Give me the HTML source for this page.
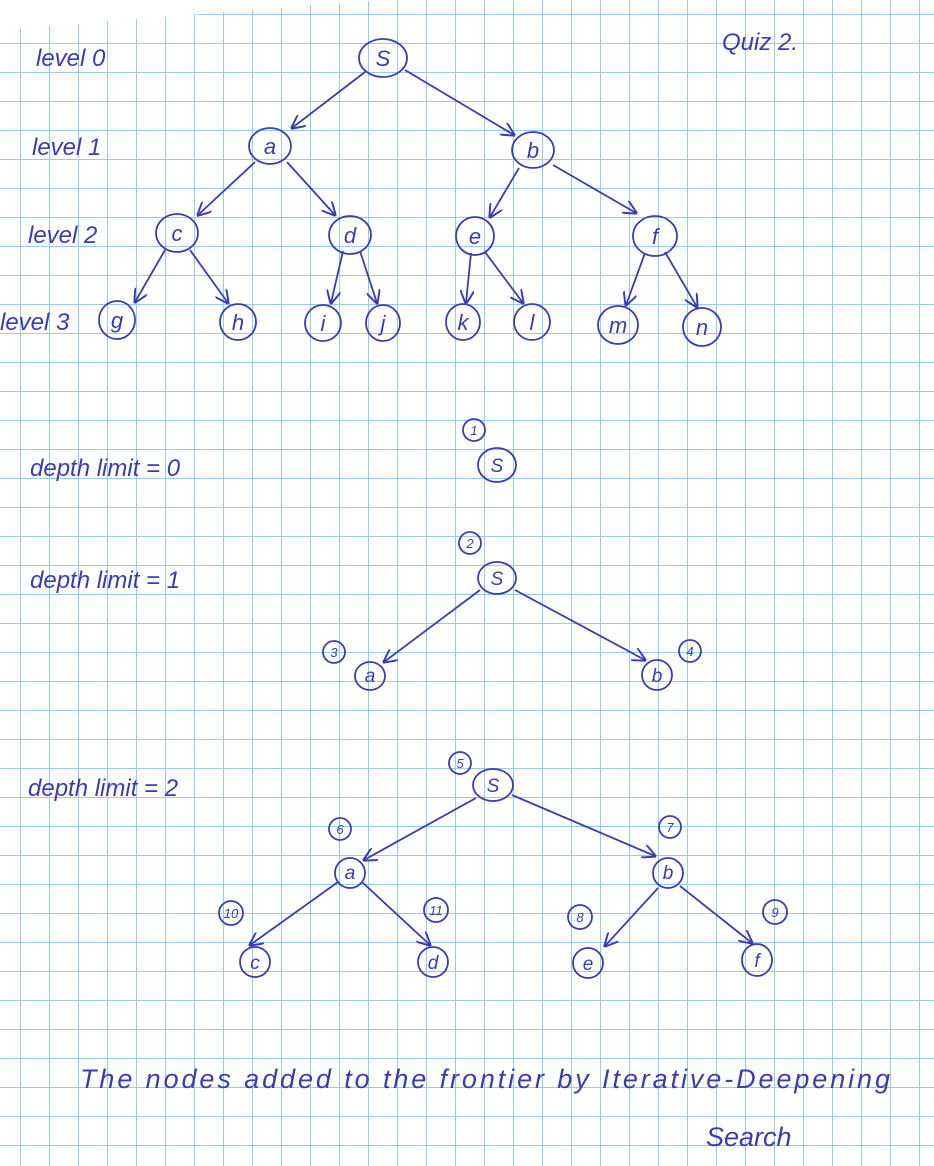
<!DOCTYPE html>
<html><head><meta charset="utf-8"><style>
body{margin:0;background:#fff}
svg{display:block}
text{font-family:"Liberation Sans",sans-serif;font-style:italic;fill:#3a3db0}
</style></head><body>
<svg width="934" height="1166" viewBox="0 0 934 1166">
<defs>
<pattern id="g" x="20" y="14" width="29" height="29" patternUnits="userSpaceOnUse">
<path d="M0 0V29M0 0H29" stroke="#95cbef" stroke-width="2" fill="none"/>
</pattern>
<marker id="ar" viewBox="0 0 10 10" refX="9" refY="5" markerWidth="14" markerHeight="14" orient="auto" markerUnits="userSpaceOnUse">
<path d="M0 0L10 5L0 10" fill="none" stroke="#3a3db0" stroke-width="1.4"/>
</marker>
</defs>
<rect width="934" height="1166" fill="url(#g)"/>
<polygon points="0,0 380,0 0,30" fill="#fff"/>
<g stroke="#3a3db0" stroke-width="1.8" fill="none" marker-end="url(#ar)">
<line x1="365" y1="72" x2="292" y2="128"/>
<line x1="405" y1="70" x2="514" y2="135"/>
<line x1="255" y1="162" x2="198" y2="215"/>
<line x1="287" y1="162" x2="335" y2="215"/>
<line x1="519" y1="168" x2="490" y2="217"/>
<line x1="553" y1="165" x2="636" y2="213"/>
<line x1="165" y1="250" x2="135" y2="302"/>
<line x1="190" y1="250" x2="228" y2="303"/>
<line x1="343" y1="251" x2="331" y2="303"/>
<line x1="360" y1="251" x2="377" y2="303"/>
<line x1="471" y1="253" x2="466" y2="303"/>
<line x1="485" y1="252" x2="523" y2="303"/>
<line x1="645" y1="253" x2="626" y2="305"/>
<line x1="665" y1="252" x2="697" y2="307"/>
<line x1="480" y1="590" x2="384" y2="662"/>
<line x1="515" y1="590" x2="645" y2="660"/>
<line x1="476" y1="798" x2="364" y2="860"/>
<line x1="512" y1="795" x2="655" y2="856"/>
<line x1="338" y1="882" x2="250" y2="945"/>
<line x1="362" y1="882" x2="430" y2="945"/>
<line x1="658" y1="888" x2="605" y2="946"/>
<line x1="680" y1="886" x2="752" y2="943"/>
</g>
<g stroke="#3a3db0" stroke-width="1.8" fill="none">
<ellipse cx="383" cy="58" rx="24" ry="19"/>
<ellipse cx="270" cy="146" rx="21" ry="18"/>
<ellipse cx="533" cy="150" rx="21" ry="18"/>
<ellipse cx="177" cy="233" rx="21" ry="19"/>
<ellipse cx="350" cy="235" rx="21" ry="19"/>
<ellipse cx="475" cy="236" rx="19" ry="19"/>
<ellipse cx="655" cy="236" rx="22" ry="20"/>
<ellipse cx="117" cy="320" rx="18" ry="19"/>
<ellipse cx="238" cy="322" rx="18" ry="18"/>
<ellipse cx="323" cy="323" rx="18" ry="18"/>
<ellipse cx="383" cy="323" rx="17" ry="18"/>
<ellipse cx="463" cy="322" rx="17" ry="18"/>
<ellipse cx="532" cy="322" rx="18" ry="18"/>
<ellipse cx="618" cy="325" rx="20" ry="19"/>
<ellipse cx="702" cy="327" rx="19" ry="19"/>
<ellipse cx="497" cy="465" rx="19" ry="17"/>
<circle cx="474" cy="430" r="11"/>
<ellipse cx="497" cy="578" rx="19" ry="16"/>
<circle cx="470" cy="543" r="11"/>
<ellipse cx="370" cy="676" rx="15" ry="14"/>
<circle cx="334" cy="652" r="11"/>
<ellipse cx="657" cy="675" rx="15" ry="15"/>
<circle cx="690" cy="651" r="11"/>
<ellipse cx="493" cy="785" rx="20" ry="16"/>
<circle cx="460" cy="763" r="11"/>
<ellipse cx="350" cy="873" rx="15" ry="15"/>
<circle cx="340" cy="829" r="11"/>
<ellipse cx="668" cy="873" rx="15" ry="15"/>
<circle cx="670" cy="827" r="11"/>
<ellipse cx="255" cy="962" rx="15" ry="15"/>
<circle cx="231" cy="913" r="12"/>
<ellipse cx="433" cy="962" rx="15" ry="15"/>
<circle cx="436" cy="910" r="12"/>
<ellipse cx="588" cy="963" rx="15" ry="15"/>
<circle cx="580" cy="917" r="12"/>
<ellipse cx="757" cy="960" rx="15" ry="16"/>
<circle cx="775" cy="912" r="12"/>
</g>
<g font-size="22" text-anchor="middle">
<text x="383" y="66">S</text><text x="270" y="154">a</text><text x="533" y="158">b</text>
<text x="177" y="241">c</text><text x="350" y="243">d</text><text x="475" y="244">e</text><text x="655" y="244">f</text>
<text x="117" y="328">g</text><text x="238" y="330">h</text><text x="323" y="331">i</text><text x="383" y="331">j</text>
<text x="463" y="330">k</text><text x="532" y="330">l</text><text x="618" y="333">m</text><text x="702" y="335">n</text>
</g>
<g font-size="19" text-anchor="middle">
<text x="497" y="472">S</text><text x="497" y="585">S</text><text x="370" y="682">a</text><text x="657" y="682">b</text>
<text x="493" y="792">S</text><text x="350" y="879">a</text><text x="668" y="879">b</text>
<text x="255" y="969">c</text><text x="433" y="969">d</text><text x="588" y="970">e</text><text x="757" y="967">f</text>
</g>
<g font-size="13" text-anchor="middle">
<text x="474" y="435">1</text><text x="470" y="548">2</text><text x="334" y="657">3</text><text x="690" y="656">4</text>
<text x="460" y="768">5</text><text x="340" y="834">6</text><text x="670" y="832">7</text><text x="580" y="922">8</text>
<text x="775" y="917">9</text><text x="231" y="918">10</text><text x="436" y="915">11</text>
</g>
<g font-size="24">
<text x="36" y="66">level 0</text>
<text x="32" y="155">level 1</text>
<text x="28" y="243">level 2</text>
<text x="0" y="330">level 3</text>
<text x="722" y="50">Quiz 2.</text>
<text x="30" y="476">depth limit = 0</text>
<text x="30" y="588">depth limit = 1</text>
<text x="28" y="796">depth limit = 2</text>
<text x="80" y="1088" font-size="27" textLength="810">The nodes added to the frontier by Iterative-Deepening</text>
<text x="706" y="1146" font-size="27">Search</text>
</g>
</svg>
</body></html>
